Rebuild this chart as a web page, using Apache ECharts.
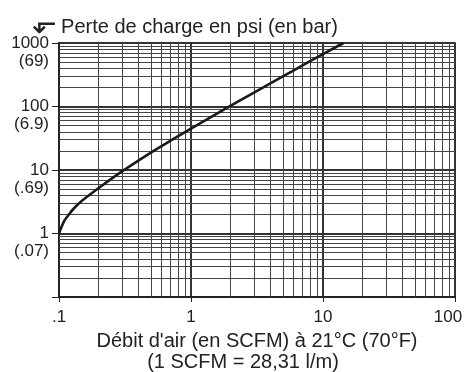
<!DOCTYPE html>
<html><head><meta charset="utf-8">
<script src="https://cdn.jsdelivr.net/npm/echarts@6/dist/echarts.min.js"></script>
<style>html,body{margin:0;padding:0;background:#fff}#c{width:464px;height:372px}</style>
</head><body><div id="c"></div>
<script>
// Flow (SCFM) and pressure drop (psi)
const flowScfm = [0.1, 0.105, 0.11, 0.12, 0.13, 0.15, 0.2, 0.3, 0.5, 0.7, 1, 2, 3, 5, 7, 10, 14.3];
const dropPsi  = [1, 1.3, 1.6, 2.05, 2.5, 3.3, 5.2, 9.5, 19, 29, 45, 103, 165, 300, 445, 670, 1000];
// Tick labels
const xTickValues = [0.1, 1, 10, 100];
const xTickLabels = ['.1', '1', '10', '100'];
const yTickValues = [0.1, 1, 10, 100, 1000];
const yTickPsi = ['', '1', '10', '100', '1000'];
const yTickBar = ['', '(.07)', '(.69)', '(6.9)', '(69)'];
// Minor grid values
const minorX = [0.2,0.3,0.4,0.5,0.6,0.7,0.8,0.9, 2,3,4,5,6,7,8,9, 20,30,40,50,60,70,80,90];
const minorY = [0.2,0.3,0.4,0.5,0.6,0.7,0.8,0.9, 2,3,4,5,6,7,8,9, 20,30,40,50,60,70,80,90, 200,300,400,500,600,700,800,900];
const yTitleArrow = '\u2B10';
const yTitle = 'Perte de charge en psi (en bar)';
const xTitle1 = "Débit d'air (en SCFM) à 21°C (70°F)";
const xTitle2 = '(1 SCFM = 28,31 l/m)';

const FONT = "'Liberation Sans', Arial, Helvetica, sans-serif";
const chart = echarts.init(document.getElementById('c'), null, {renderer: 'canvas'});
const idx = (arr, v) => { const e = Math.round(Math.log10(v)); return arr.findIndex(t => Math.round(Math.log10(t)) === e); };

const gridLine = {color: '#444', width: 1, type: 'solid'};
chart.setOption({
  animation: false,
  title: {
    text: '{arr|' + yTitleArrow + '}{t|' + yTitle + '}', left: 27, top: 5,
    textStyle: {
      fontFamily: FONT, fontSize: 20, fontWeight: 'normal', color: '#222',
      rich: {
        arr: {fontFamily: "'DejaVu Sans', sans-serif", fontSize: 30, color: '#222', padding: [0, 4, 0, 0]},
        t: {fontFamily: FONT, fontSize: 20, color: '#222', padding: [4, 0, 0, 0]}
      }
    }
  },
  grid: {left: 59, right: 9, top: 43, bottom: 75, show: true, borderColor: '#222', borderWidth: 1.5, outerBoundsMode: 'none', containLabel: false},
  xAxis: {
    type: 'log', logBase: 10, min: 0.1, max: 100,
    axisLine: {show: true, lineStyle: {color: '#222', width: 2}},
    axisTick: {show: true, length: 5, lineStyle: {color: '#222', width: 1}},
    splitLine: {show: true, lineStyle: {color: '#333', width: 2}},
    axisLabel: {
      margin: 12, fontFamily: FONT, fontSize: 17, color: '#222', hideOverlap: false,
      formatter: v => { const i = idx(xTickValues, v); if (i < 0) return ''; return i === xTickLabels.length - 1 ? '{r|' + xTickLabels[i] + '}' : xTickLabels[i]; },
      rich: {r: {fontFamily: FONT, fontSize: 17, color: '#222', padding: [0, 14, 0, 0]}}
    },
    name: '{a|' + xTitle1 + '}\n{b|' + xTitle2 + '}',
    nameLocation: 'middle', nameGap: 32,
    nameTextStyle: {
      fontFamily: FONT, fontSize: 20, color: '#222', lineHeight: 21,
      rich: {
        a: {fontFamily: FONT, fontSize: 20, color: '#222', lineHeight: 21},
        b: {fontFamily: FONT, fontSize: 20, color: '#222', lineHeight: 21, padding: [0, 28, 0, 0]}
      }
    }
  },
  yAxis: {
    type: 'log', logBase: 10, min: 0.1, max: 1000,
    axisLine: {show: true, lineStyle: {color: '#222', width: 2}},
    axisTick: {show: true, length: 7, lineStyle: {color: '#222', width: 1}},
    splitLine: {show: true, lineStyle: {color: '#333', width: 2}},
    axisLabel: {
      margin: 10, fontFamily: FONT, fontSize: 17, color: '#222', lineHeight: 18, align: 'right', hideOverlap: false,
      formatter: v => { const i = idx(yTickValues, v); if (i < 0 || !yTickPsi[i]) return ''; return ' \n' + yTickPsi[i] + '\n' + yTickBar[i]; }
    }
  },
  series: [{
    type: 'line',
    data: flowScfm.map((x, i) => [x, dropPsi[i]]),
    smooth: 0.2, showSymbol: false, symbol: 'none',
    lineStyle: {color: '#1a1a1a', width: 2.6},
    z: 10,
    markLine: {
      silent: true, symbol: ['none', 'none'], label: {show: false},
      lineStyle: gridLine, z: 1, animation: false,
      data: minorX.map(v => ({xAxis: v})).concat(minorY.map(v => ({yAxis: v})))
    }
  }]
});
</script></body></html>
